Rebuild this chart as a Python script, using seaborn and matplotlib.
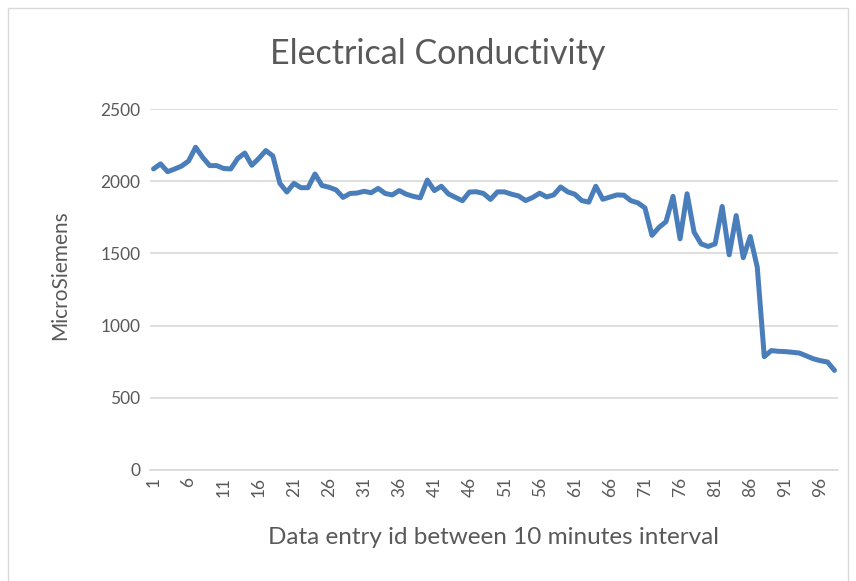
import numpy as np
import pandas as pd
import matplotlib
matplotlib.use("Agg")
import matplotlib.pyplot as plt
import seaborn as sns
from matplotlib.patches import Rectangle

sns.set_theme(style="white")
plt.rcParams['font.family'] = ['Lato', 'DejaVu Sans']

# conductivity readings (microsiemens), one per 10-minute entry
ec_values = [
    2085, 2120, 2066, 2084, 2105, 2140, 2235, 2165, 2108, 2108,
    2088, 2085, 2158, 2195, 2110, 2158, 2212, 2175, 1985, 1925,
    1985, 1955, 1955, 2050, 1970, 1958, 1940, 1888, 1915, 1918,
    1930, 1920, 1950, 1915, 1905, 1935, 1910, 1895, 1885, 2008,
    1935, 1965, 1912, 1888, 1865, 1925, 1927, 1915, 1874, 1926,
    1926, 1910, 1898, 1866, 1887, 1917, 1891, 1905, 1960, 1926,
    1910, 1866, 1855, 1965, 1875, 1890, 1905, 1903, 1865, 1850,
    1815, 1625, 1680, 1720, 1895, 1601, 1913, 1647, 1566, 1548,
    1566, 1825, 1490, 1762, 1470, 1617, 1404, 785, 827, 822,
    820, 815, 810, 790, 770, 757, 748, 690,
]
entry_ids = list(range(1, len(ec_values) + 1))
x_ticks = list(range(1, len(ec_values) + 1, 5))
y_ticks = [0, 500, 1000, 1500, 2000, 2500]

df = pd.DataFrame({"id": entry_ids, "ec": ec_values})

text_col = "#595959"
grid_col = "#D9D9D9"

fig = plt.figure(figsize=(8.56, 5.81), dpi=100)
ax = fig.add_axes([150 / 856, 111 / 581, 688 / 856, 361 / 581])

sns.lineplot(data=df, x="id", y="ec", ax=ax, color="#4A7EBB", linewidth=3.6)

ax.set_xlim(0.5, len(ec_values) + 0.5)
ax.set_ylim(0, 2500)
ax.set_yticks(y_ticks)
ax.set_xticks(x_ticks)
ax.set_xticklabels([str(t) for t in x_ticks], rotation=90)
ax.yaxis.grid(True, color=grid_col, linewidth=1.2)
ax.set_axisbelow(True)
for side in ["top", "right", "left"]:
    ax.spines[side].set_visible(False)
ax.spines["bottom"].set_color(grid_col)
ax.spines["bottom"].set_linewidth(1.2)
ax.tick_params(axis="both", length=0, labelsize=12.5, colors=text_col)
ax.tick_params(axis="x", pad=5)
ax.tick_params(axis="y", pad=7)

ax.set_xlabel("Data entry id between 10 minutes interval", fontsize=17.5, color=text_col)
ax.set_ylabel("MicroSiemens", fontsize=15, color=text_col)
ax.xaxis.set_label_coords(0.5, -0.188)
ax.yaxis.set_label_coords(-0.131, 0.54)
ax.xaxis.label.set_va("center")
ax.yaxis.label.set_va("center")
fig.text(438 / 856, 1 - 54 / 581, "Electrical Conductivity", fontsize=24.5, color=text_col,
         ha="center", va="center")

# light chart border
fig.patches.append(Rectangle((8 / 856, -0.01), 840 / 856, 1 - 8 / 581 + 0.01,
                             transform=fig.transFigure, fill=False,
                             edgecolor=grid_col, linewidth=1))

fig.savefig("out.png", dpi=100)
